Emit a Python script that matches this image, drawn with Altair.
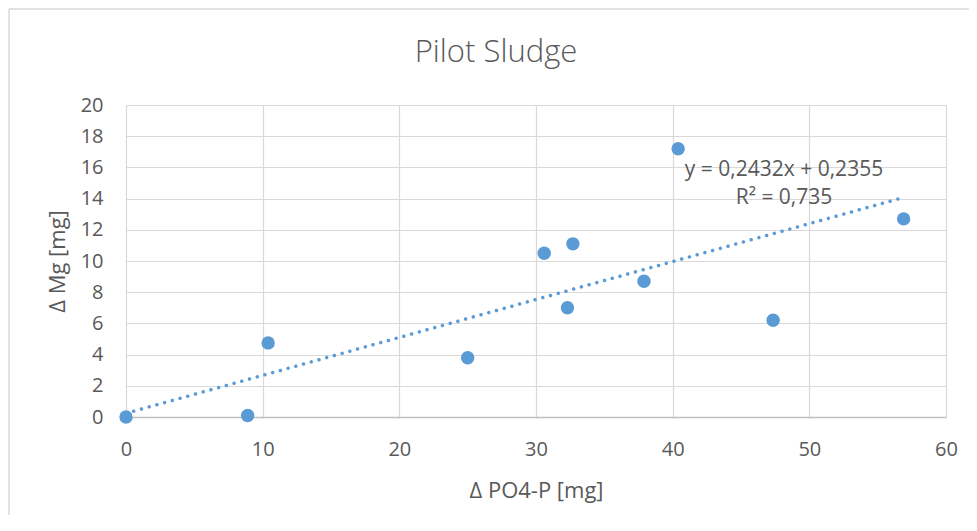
import altair as alt
import pandas as pd

# ---- data ----
po4_p = [0.0, 8.9, 10.4, 25.0, 30.6, 32.3, 32.7, 37.9, 40.4, 47.35, 56.9]
mg = [0.0, 0.1, 4.75, 3.8, 10.5, 7.0, 11.1, 8.7, 17.2, 6.2, 12.7]
slope = 0.2432
intercept = 0.2355
eq_label = "y = 0,2432x + 0,2355"
r2_label = "R² = 0,735"
chart_title = "Pilot Sludge"
x_ticks = [0, 10, 20, 30, 40, 50, 60]
y_ticks = [0, 2, 4, 6, 8, 10, 12, 14, 16, 18, 20]

pts = pd.DataFrame({"x": po4_p, "y": mg})
x_end = [min(po4_p), max(po4_p)]
trend = pd.DataFrame({"x": x_end, "y": [slope * v + intercept for v in x_end]})
one = pd.DataFrame({"k": [0]})

FONT = "Open Sans"
TXT = "#595959"
BLUE = "#5B9BD5"
GRID = "#D9D9D9"

xscale = alt.Scale(domain=[0, 60], nice=False, zero=False)
yscale = alt.Scale(domain=[0, 20], nice=False, zero=False)

xaxis = alt.Axis(values=x_ticks, title="Δ PO4-P [mg]", grid=True, gridColor=GRID, gridWidth=1.2,
                 domain=True, domainColor="#BFBFBF", domainWidth=1.3, ticks=False, tickSize=0,
                 labelOverlap=False, labelFlush=False,
                 labelPadding=22, labelFont=FONT, labelFontSize=20, labelColor=TXT,
                 titleFont=FONT, titleFontSize=22, titleFontWeight="normal", titleColor=TXT,
                 titleX=410, titleY=73, titleBaseline="middle", titleAlign="center")
yaxis = alt.Axis(values=y_ticks, title="Δ Mg [mg]", grid=True, gridColor=GRID, gridWidth=1.2,
                 domain=False, ticks=False, tickSize=0,
                 labelOverlap=False, labelFlush=False,
                 labelPadding=23, labelFont=FONT, labelFontSize=20, labelColor=TXT,
                 titleFont=FONT, titleFontSize=22, titleFontWeight="normal", titleColor=TXT,
                 titleX=-69, titleY=156, titleAngle=270, titleBaseline="middle", titleAlign="center")

trend_line = alt.Chart(trend).mark_line(
    color=BLUE, strokeWidth=3.5, strokeDash=[0.01, 8], strokeCap="round"
).encode(
    x=alt.X("x:Q", scale=xscale, axis=xaxis),
    y=alt.Y("y:Q", scale=yscale, axis=yaxis),
)

points = alt.Chart(pts).mark_point(
    filled=True, shape="circle", size=180, color=BLUE, opacity=1
).encode(
    x=alt.X("x:Q", scale=xscale, axis=xaxis),
    y=alt.Y("y:Q", scale=yscale, axis=yaxis),
)

eq_text = alt.Chart(one).mark_text(
    font=FONT, fontSize=21, color=TXT, align="center", baseline="middle"
).encode(x=alt.value(658), y=alt.value(65), text=alt.value(eq_label))

r2_text = alt.Chart(one).mark_text(
    font=FONT, fontSize=21, color=TXT, align="center", baseline="middle"
).encode(x=alt.value(658), y=alt.value(93), text=alt.value(r2_label))

title_text = alt.Chart(one).mark_text(
    font=FONT, fontSize=31, fontWeight=300, color=TXT, align="center", baseline="alphabetic"
).encode(x=alt.value(370), y=alt.value(-43), text=alt.value(chart_title))

border_left = alt.Chart(one).mark_rule(color=GRID, strokeWidth=1.5).encode(
    x=alt.value(-117), y=alt.value(-96), y2=alt.value(410))
border_top = alt.Chart(one).mark_rule(color=GRID, strokeWidth=1.5).encode(
    x=alt.value(-117), x2=alt.value(843), y=alt.value(-96))

chart = alt.layer(border_left, border_top, trend_line, points, eq_text, r2_text, title_text).properties(
    width=820,
    height=312,
    padding={"left": 118, "top": 97, "right": 23, "bottom": 106},
    autosize=alt.AutoSizeParams(type="none"),
).configure_view(stroke=None)

chart.save("out.html", embed_options={"renderer": "svg", "actions": False})
